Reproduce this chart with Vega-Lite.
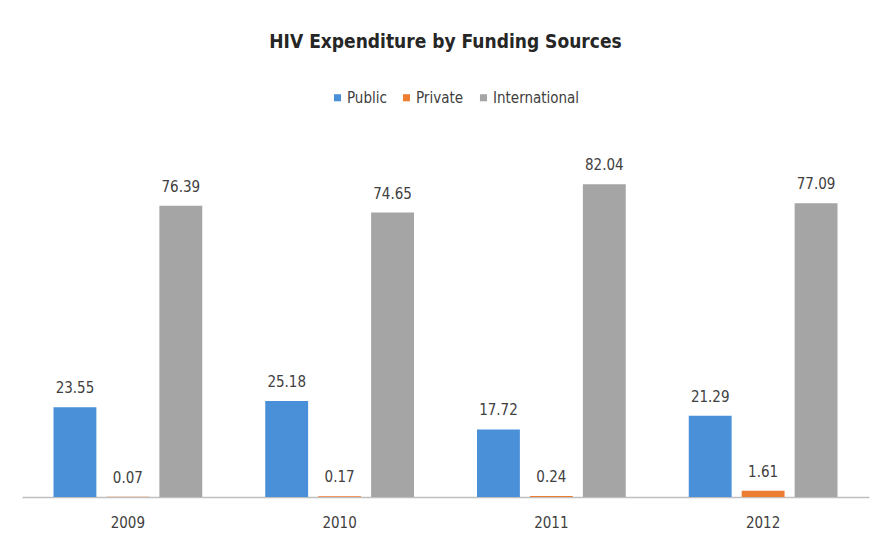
{
  "$schema": "https://vega.github.io/schema/vega-lite/v6.json",
  "width": 847,
  "height": 343,
  "autosize": "none",
  "padding": {"left": 22, "top": 154, "right": 16, "bottom": 59},
  "background": "white",
  "title": {
    "text": "HIV Expenditure by Funding Sources",
    "fontSize": 19,
    "fontWeight": "bold",
    "color": "#262626",
    "font": "Liberation Sans Narrow, DejaVu Sans Condensed, sans-serif",
    "anchor": "middle",
    "offset": 38
  },
  "data": {
    "values": [
      {"year": "2009", "source": "Public", "value": 23.55},
      {"year": "2009", "source": "Private", "value": 0.07},
      {"year": "2009", "source": "International", "value": 76.39},
      {"year": "2010", "source": "Public", "value": 25.18},
      {"year": "2010", "source": "Private", "value": 0.17},
      {"year": "2010", "source": "International", "value": 74.65},
      {"year": "2011", "source": "Public", "value": 17.72},
      {"year": "2011", "source": "Private", "value": 0.24},
      {"year": "2011", "source": "International", "value": 82.04},
      {"year": "2012", "source": "Public", "value": 21.29},
      {"year": "2012", "source": "Private", "value": 1.61},
      {"year": "2012", "source": "International", "value": 77.09}
    ]
  },
  "encoding": {
    "x": {
      "field": "year", "type": "nominal",
      "scale": {"paddingInner": 0, "paddingOuter": 0},
      "axis": {
        "title": null, "labelAngle": 0, "ticks": false,
        "domainColor": "#bfbfbf", "domainWidth": 1.5,
        "labelFontSize": 15, "labelColor": "#404040", "labelPadding": 18,
        "labelFont": "Liberation Sans Narrow, DejaVu Sans Condensed, sans-serif"
      }
    },
    "xOffset": {
      "field": "source", "type": "nominal",
      "sort": ["Public", "Private", "International"],
      "scale": {"paddingInner": 0.19, "paddingOuter": 0.595}
    },
    "y": {
      "field": "value", "type": "quantitative",
      "scale": {"domain": [0, 90]},
      "axis": null
    }
  },
  "layer": [
    {
      "mark": {"type": "bar"},
      "encoding": {
        "color": {
          "field": "source", "type": "nominal",
          "sort": ["Public", "Private", "International"],
          "scale": {"domain": ["Public", "Private", "International"], "range": ["#4A90D9", "#ED7D31", "#A5A5A5"]},
          "legend": {
            "title": null, "orient": "none", "direction": "horizontal",
            "legendX": 308, "legendY": -64,
            "symbolType": "square", "symbolSize": 50, "symbolStrokeWidth": 0,
            "labelFontSize": 15, "labelColor": "#404040",
            "labelFont": "Liberation Sans Narrow, DejaVu Sans Condensed, sans-serif",
            "columnPadding": 12, "labelOffset": 2
          }
        }
      }
    },
    {
      "mark": {"type": "text", "dy": -14, "baseline": "alphabetic", "fontSize": 15, "color": "#404040", "font": "Liberation Sans Narrow, DejaVu Sans Condensed, sans-serif"},
      "encoding": {
        "text": {"field": "value", "type": "quantitative", "format": ".2f"}
      }
    }
  ],
  "config": {"view": {"stroke": null}}
}
